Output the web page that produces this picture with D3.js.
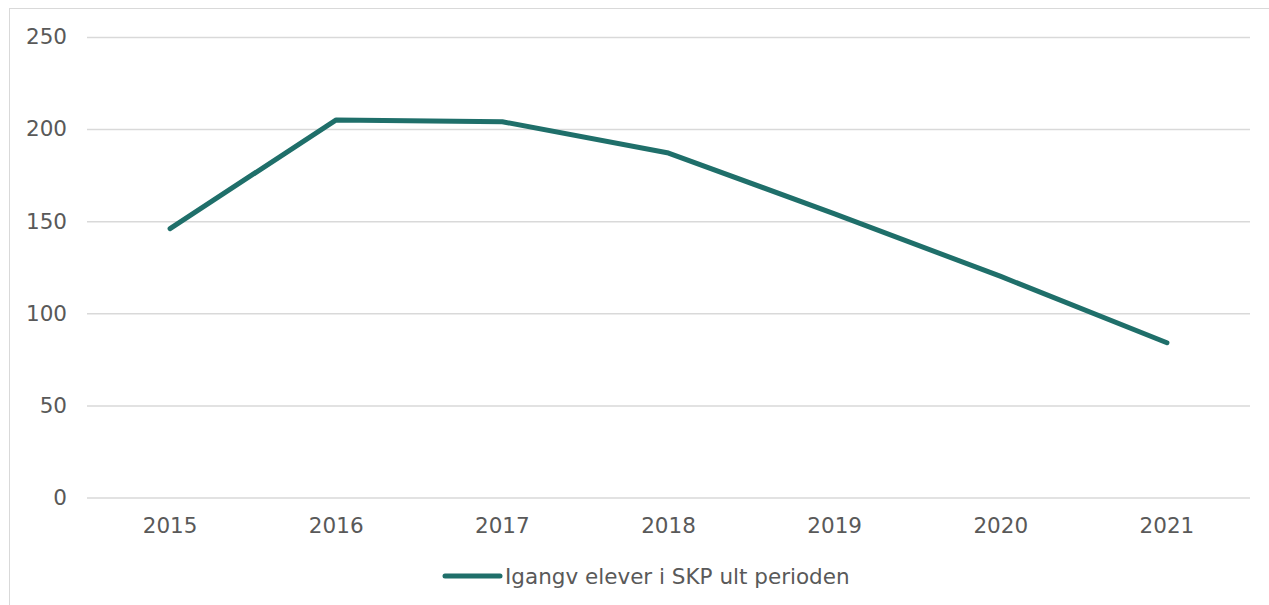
<!DOCTYPE html>
<html>
<head>
<meta charset="utf-8">
<script src="https://cdn.jsdelivr.net/npm/d3@7"></script>
<style>
  body { margin: 0; background: #fff; }
  svg text { font-family: "DejaVu Sans", Verdana, sans-serif; fill: #595959; }
</style>
</head>
<body>
<div class="wrapper"></div>
<script>
const YEARS = ['2015', '2016', '2017', '2018', '2019', '2020', '2021'];
const ELEVER = [146, 205, 204, 187, 154, 120, 84];
const Y_TICKS = [0, 50, 100, 150, 200, 250];
const SERIES_NAME = 'Igangv elever i SKP ult perioden';

const WIDTH = 1269, HEIGHT = 605;
const PLOT = { left: 87, right: 1250, top: 37, bottom: 497.5 };
const LINE_COLOR = '#1f6f6a';
const FONT_SIZE = 21.5;

const svg = d3.select('.wrapper').append('svg')
  .attr('width', WIDTH)
  .attr('height', HEIGHT);

// chart frame (cut off at right/bottom)
svg.append('rect')
  .attr('x', 9.5).attr('y', 8.5)
  .attr('width', WIDTH).attr('height', HEIGHT)
  .attr('fill', 'none')
  .attr('stroke', '#d9d9d9');

const xScale = d3.scaleBand().domain(YEARS).range([PLOT.left, PLOT.right]);
const yScale = d3.scaleLinear().domain([0, 250]).range([PLOT.bottom, PLOT.top]);

// gridlines + y labels
const yAxis = d3.axisLeft(yScale)
  .tickValues(Y_TICKS)
  .tickSize(-(PLOT.right - PLOT.left))
  .tickPadding(20);

svg.append('g')
  .attr('transform', `translate(${PLOT.left}, 0)`)
  .call(yAxis)
  .call(g => g.select('.domain').remove())
  .call(g => g.selectAll('line').attr('stroke', '#d9d9d9').attr('stroke-width', 1.5))
  .call(g => g.selectAll('text').attr('font-size', FONT_SIZE).attr('fill', '#595959'));

const xAxis = d3.axisBottom(xScale).tickSize(0).tickPadding(20);

svg.append('g')
  .attr('transform', `translate(0, ${PLOT.bottom})`)
  .call(xAxis)
  .call(g => g.select('.domain').remove())
  .call(g => g.selectAll('text').attr('font-size', FONT_SIZE).attr('fill', '#595959'));

const line = d3.line()
  .x((d, i) => xScale(YEARS[i]) + xScale.bandwidth() / 2)
  .y(d => yScale(d));

svg.append('path')
  .datum(ELEVER)
  .attr('d', line)
  .attr('fill', 'none')
  .attr('stroke', LINE_COLOR)
  .attr('stroke-width', 5)
  .attr('stroke-linecap', 'round')
  .attr('stroke-linejoin', 'round');

// legend
const legend = svg.append('g').attr('transform', 'translate(445, 576)');
legend.append('line')
  .attr('x1', 0).attr('x2', 55)
  .attr('stroke', LINE_COLOR)
  .attr('stroke-width', 5)
  .attr('stroke-linecap', 'round');
legend.append('text')
  .attr('x', 60).attr('dy', '0.35em')
  .attr('font-size', FONT_SIZE)
  .text(SERIES_NAME);
</script>
</body>
</html>
